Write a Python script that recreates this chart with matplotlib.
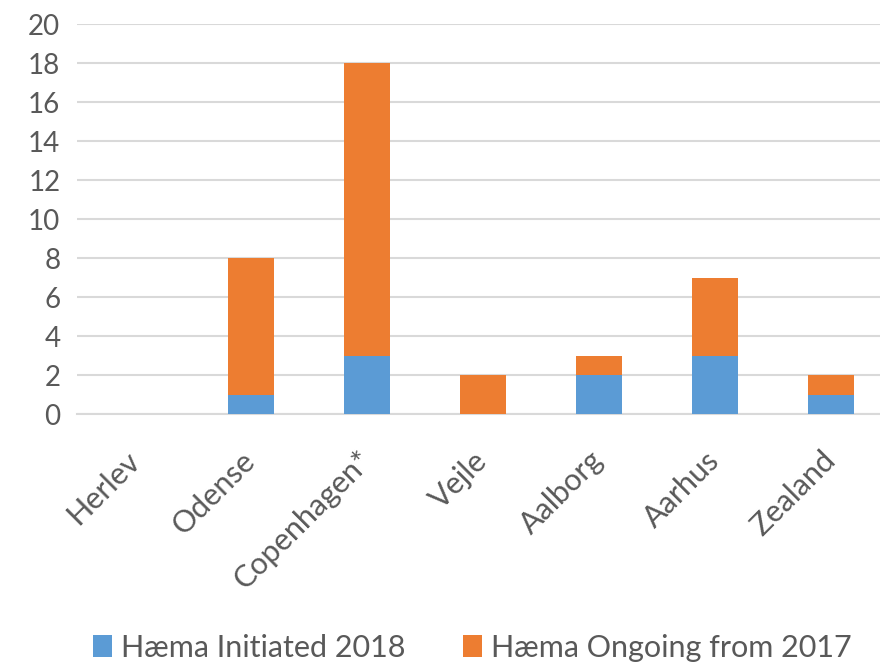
import matplotlib
matplotlib.use("Agg")
import matplotlib.pyplot as plt
import numpy as np

sites = ["Herlev", "Odense", "Copenhagen*", "Vejle", "Aalborg", "Aarhus", "Zealand"]
initiated_2018 = [0, 1, 3, 0, 2, 3, 1]
ongoing_2017 = [0, 7, 15, 2, 1, 4, 1]

blue = "#5B9BD5"
orange = "#ED7D31"
grey_text = "#595959"

plt.rcParams["font.family"] = ["Lato", "DejaVu Sans"]

fig = plt.figure(figsize=(8.8, 6.67), dpi=100)
ax = fig.add_axes([0.0875, 0.379, 0.923, 0.585])

x = np.arange(len(sites))
ax.bar(x, initiated_2018, width=0.4, color=blue, label="Hæma Initiated 2018", zorder=3)
ax.bar(x, ongoing_2017, width=0.4, bottom=initiated_2018, color=orange,
       label="Hæma Ongoing from 2017", zorder=3)

ax.set_xlim(-0.5, len(sites) - 0.5)
ax.set_ylim(0, 20)
ax.set_yticks(range(0, 21, 2))
ax.yaxis.grid(True, color="#D9D9D9", linewidth=1.5, zorder=0)
for s in ["top", "right", "left"]:
    ax.spines[s].set_visible(False)
ax.spines["bottom"].set_color("#D9D9D9")
ax.spines["bottom"].set_linewidth(1.5)
ax.tick_params(axis="y", length=0, labelsize=20, colors=grey_text, pad=12)
ax.tick_params(axis="x", length=0, labelsize=22, colors=grey_text, pad=30)
ax.set_xticks(x)
ax.set_xticklabels(sites, rotation=45, ha="right", va="center", rotation_mode="anchor")

fig.legend(loc="lower center", bbox_to_anchor=(0.537, -0.033), ncol=2, frameon=False,
           fontsize=22, labelcolor=grey_text, handlelength=0.6, handleheight=0.7,
           handletextpad=0.3, columnspacing=1.9)

fig.savefig("out.png", dpi=100)
